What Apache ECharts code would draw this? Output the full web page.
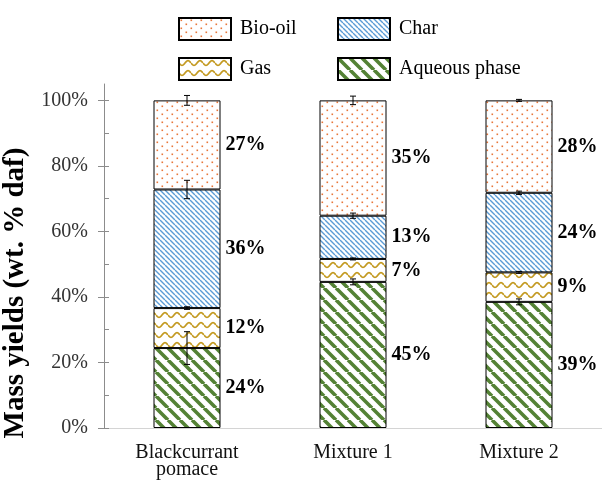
<!DOCTYPE html>
<html>
<head>
<meta charset="utf-8">
<script src="https://cdn.jsdelivr.net/npm/echarts@6/dist/echarts.min.js"></script>
<style>
  html, body { margin: 0; padding: 0; background: #fff; }
  #chart { width: 602px; height: 484px; }
</style>
</head>
<body>
<div id="chart"></div>
<script>
// --- data -------------------------------------------------------------------
const categories = ["Blackcurrant\npomace", "Mixture 1", "Mixture 2"];

// stacked bottom -> top (wt. % daf)
const aqueous = [24.4, 44.6, 38.5];
const gas = [12.2, 7.0, 9.0];
const char = [36.2, 13.2, 24.3];
const bioOil = [27.2, 35.2, 28.2];

// error bar half-widths, drawn at the top of each segment
const errAqueous = [5.0, 0.9, 0.9];
const errGas = [0.4, 0.3, 0.3];
const errChar = [2.8, 0.8, 0.5];
const errBioOil = [1.5, 1.3, 0.3];

const yTicks = [0, 20, 40, 60, 80, 100];
const yMinorTicks = [0, 10, 20, 30, 40, 50, 60, 70, 80, 90, 100];

// --- fill patterns ------------------------------------------------------------
const SERIF = '"Liberation Serif", "Times New Roman", serif';

function tile(w, h, draw) {
  const c = document.createElement("canvas");
  c.width = w;
  c.height = h;
  const g = c.getContext("2d");
  g.fillStyle = "#fff";
  g.fillRect(0, 0, w, h);
  draw(g, w, h);
  return c;
}

const diag = (color, lw) => (g, w, h) => {
  g.strokeStyle = color;
  g.lineWidth = lw;
  g.beginPath();
  for (const o of [-w, 0, w]) {
    g.moveTo(o, 0);
    g.lineTo(o + w, h);
  }
  g.stroke();
};

const pat = {
  aqueous: tile(12, 12, diag("#548235", 3.6)),
  char: tile(5, 5, diag("#5b9bd5", 1.4)),
  gas: tile(12, 10, (g, w) => {
    g.strokeStyle = "#c39a22";
    g.lineWidth = 1.7;
    g.beginPath();
    for (let x = 0; x <= w; x += 0.5) {
      const y = 5 + 2.3 * Math.sin((2 * Math.PI * x) / w);
      x === 0 ? g.moveTo(x, y) : g.lineTo(x, y);
    }
    g.stroke();
  }),
  bioOil: tile(10, 8, (g) => {
    g.fillStyle = "#e8773a";
    g.fillRect(1.5, 1.5, 1.6, 1.6);
    g.fillRect(6.5, 5.5, 1.6, 1.6);
  }),
};

const fill = (c) => ({ image: c, repeat: "repeat" });

// --- chart --------------------------------------------------------------------
const chart = echarts.init(document.getElementById("chart"), null, { renderer: "canvas" });

function barSeries(name, data, pattern) {
  return {
    name,
    type: "bar",
    stack: "total",
    data,
    barWidth: 67,
    itemStyle: { color: fill(pattern), borderColor: "#000", borderWidth: 1 },
    label: {
      show: true,
      position: "right",
      distance: 5,
      formatter: (p) => Math.round(p.value) + "%",
      fontFamily: SERIF,
      fontWeight: "bold",
      fontSize: 20,
      color: "#000",
    },
  };
}

// cumulative tops of each segment, used to place the error bars
const stackOrder = [
  [aqueous, errAqueous],
  [gas, errGas],
  [char, errChar],
  [bioOil, errBioOil],
];
const errData = [];
categories.forEach((_, i) => {
  let top = 0;
  stackOrder.forEach(([vals, errs]) => {
    top += vals[i];
    errData.push([i, top, errs[i]]);
  });
});

const legendBase = {
  orient: "vertical",
  top: 17,
  padding: 0,
  itemGap: 16,
  itemWidth: 52,
  itemHeight: 22,
  icon: "rect",
  itemStyle: { borderColor: "#000", borderWidth: 2 },
  textStyle: { fontFamily: SERIF, fontSize: 20, color: "#000", padding: [0, 0, 0, 4] },
  selectedMode: false,
};

chart.setOption({
  animation: false,
  backgroundColor: "#fff",
  textStyle: { fontFamily: SERIF },
  legend: [
    { ...legendBase, left: 178, data: ["Bio-oil", "Gas"] },
    { ...legendBase, left: 337, data: ["Char", "Aqueous phase"] },
  ],
  grid: { left: 104, right: 0, top: 84, bottom: 56, containLabel: false, outerBoundsMode: "none" },
  xAxis: [
    {
      type: "category",
      data: categories,
      axisLine: { lineStyle: { color: "#d4d4d4", width: 1 } },
      axisTick: { show: false },
      axisLabel: { fontFamily: SERIF, fontSize: 20, color: "#111", margin: 16, lineHeight: 17 },
    },
    {
      type: "category",
      position: "top",
      data: categories,
      axisLine: { lineStyle: { color: "#d4d4d4", width: 1 } },
      axisTick: { show: false },
      axisLabel: { show: false },
    },
  ],
  yAxis: [
    {
      type: "value",
      min: 0,
      max: 105,
      name: "Mass yields (wt. % daf)",
      nameLocation: "middle",
      nameGap: 62,
      nameTextStyle: {
        fontFamily: SERIF,
        fontSize: 29,
        fontWeight: "bold",
        color: "#000",
        padding: [0, 74, 0, 0],
      },
      axisLine: { show: true, lineStyle: { color: "#8c8c8c" } },
      axisTick: { show: true, length: 6, lineStyle: { color: "#8c8c8c" }, customValues: yTicks },
      axisLabel: {
        fontFamily: SERIF,
        fontSize: 20,
        color: "#333",
        margin: 16,
        customValues: yTicks,
        formatter: (v) => v + "%",
      },
      splitLine: { show: false },
    },
    {
      type: "value",
      min: 0,
      max: 105,
      position: "left",
      axisLine: { show: false },
      axisTick: { show: true, inside: true, length: 5, lineStyle: { color: "#8c8c8c" }, customValues: yMinorTicks },
      axisLabel: { show: false },
      splitLine: { show: false },
    },
  ],
  series: [
    barSeries("Aqueous phase", aqueous, pat.aqueous),
    barSeries("Gas", gas, pat.gas),
    barSeries("Char", char, pat.char),
    barSeries("Bio-oil", bioOil, pat.bioOil),
    {
      name: "_err",
      type: "custom",
      z: 10,
      data: errData,
      renderItem: (params, api) => {
        const x = api.value(0);
        const y = api.value(1);
        const e = api.value(2);
        const hi = api.coord([x, y + e]);
        const lo = api.coord([x, y - e]);
        const cap = 3;
        const st = { stroke: "#000", lineWidth: 1 };
        return {
          type: "group",
          children: [
            { type: "line", shape: { x1: hi[0], y1: hi[1], x2: lo[0], y2: lo[1] }, style: st },
            { type: "line", shape: { x1: hi[0] - cap, y1: hi[1], x2: hi[0] + cap, y2: hi[1] }, style: st },
            { type: "line", shape: { x1: lo[0] - cap, y1: lo[1], x2: lo[0] + cap, y2: lo[1] }, style: st },
          ],
        };
      },
    },
  ],
});
</script>
</body>
</html>
